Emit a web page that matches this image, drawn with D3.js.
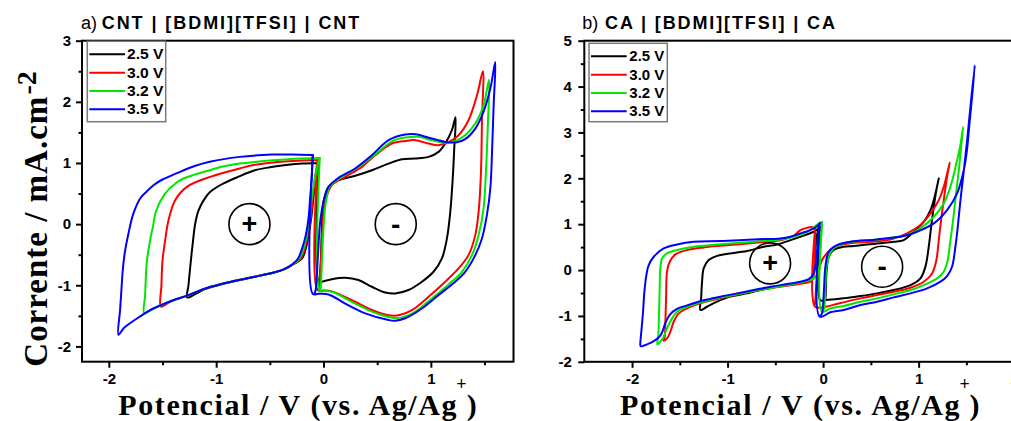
<!DOCTYPE html>
<html>
<head>
<meta charset="utf-8">
<script src="https://cdn.jsdelivr.net/npm/d3@7/dist/d3.min.js"></script>
<style>
  html, body { margin: 0; padding: 0; background: #fff; overflow: hidden; }
  svg { display: block; }
</style>
</head>
<body>
<svg id="chart" width="1011" height="421"></svg>
<script>
// ---------- data: cyclic voltammograms, potential (V vs. Ag/Ag+) / current density (mA.cm-2) ----------
const scanLabels = ["2.5 V", "3.0 V", "3.2 V", "3.5 V"];

const xTicksA = [-2, -1, 0, 1];
const yTicksA = [-2, -1, 0, 1, 2, 3];
const xMinorA = [-1.5, -0.5, 0.5, 1.5];
const yMinorA = [-1.5, -0.5, 0.5, 1.5, 2.5];

const xTicksB = [-2, -1, 0, 1, 2];
const yTicksB = [-2, -1, 0, 1, 2, 3, 4, 5];
const xMinorB = [-1.5, -0.5, 0.5, 1.5];
const yMinorB = [-1.5, -0.5, 0.5, 1.5, 2.5, 3.5, 4.5];

// CNT | [BDMI][TFSI] | CNT : electrode (+), left loop
const cntPlus25 = [[-0.045,1.0],[-0.20,0.99],[-0.33,0.97],[-0.50,0.93],[-0.64,0.88],[-0.80,0.77],[-0.96,0.64],[-1.06,0.52],[-1.12,0.38],[-1.165,0.22],[-1.196,0.0],[-1.215,-0.26],[-1.24,-0.67],[-1.258,-1.0],[-1.27,-1.20],[-1.20,-1.15],[-1.10,-1.06],[-0.95,-0.985],[-0.79,-0.92],[-0.64,-0.86],[-0.48,-0.80],[-0.37,-0.74],[-0.28,-0.655],[-0.20,-0.56],[-0.165,-0.40],[-0.14,-0.18],[-0.115,0.09],[-0.095,0.42],[-0.075,0.75],[-0.05,0.97],[-0.045,1.0]];
const cntPlus30 = [[-0.055,1.05],[-0.33,1.029],[-0.64,0.97],[-0.78,0.91],[-1.056,0.773],[-1.273,0.61],[-1.382,0.392],[-1.444,0.065],[-1.475,-0.26],[-1.50,-0.6],[-1.51,-1.0],[-1.515,-1.35],[-1.45,-1.29],[-1.40,-1.245],[-1.27,-1.17],[-1.10,-1.05],[-0.95,-0.98],[-0.79,-0.915],[-0.64,-0.86],[-0.48,-0.80],[-0.37,-0.74],[-0.285,-0.66],[-0.21,-0.56],[-0.175,-0.40],[-0.145,-0.18],[-0.12,0.09],[-0.10,0.42],[-0.08,0.75],[-0.06,0.98],[-0.055,1.05]];
const cntPlus32 = [[-0.035,1.08],[-0.33,1.062],[-0.64,1.018],[-0.78,0.99],[-0.95,0.937],[-1.06,0.882],[-1.20,0.81],[-1.305,0.746],[-1.38,0.664],[-1.48,0.49],[-1.56,0.215],[-1.59,-0.05],[-1.615,-0.26],[-1.646,-0.616],[-1.662,-1.16],[-1.67,-1.46],[-1.60,-1.40],[-1.52,-1.33],[-1.40,-1.245],[-1.27,-1.17],[-1.10,-1.05],[-0.95,-0.98],[-0.79,-0.915],[-0.64,-0.86],[-0.48,-0.80],[-0.37,-0.74],[-0.29,-0.665],[-0.225,-0.56],[-0.185,-0.40],[-0.155,-0.18],[-0.13,0.09],[-0.11,0.42],[-0.08,0.75],[-0.05,1.0],[-0.035,1.08]];
const cntPlus35 = [[-0.10,1.13],[-0.30,1.14],[-0.48,1.137],[-0.78,1.10],[-1.06,1.02],[-1.20,0.95],[-1.37,0.83],[-1.50,0.73],[-1.584,0.637],[-1.65,0.53],[-1.708,0.42],[-1.771,0.175],[-1.817,-0.152],[-1.85,-0.45],[-1.87,-0.75],[-1.88,-1.0],[-1.895,-1.4],[-1.91,-1.81],[-1.86,-1.70],[-1.786,-1.60],[-1.70,-1.50],[-1.62,-1.41],[-1.52,-1.33],[-1.40,-1.245],[-1.27,-1.17],[-1.10,-1.05],[-0.95,-0.98],[-0.79,-0.915],[-0.64,-0.86],[-0.48,-0.80],[-0.37,-0.74],[-0.30,-0.67],[-0.24,-0.57],[-0.20,-0.40],[-0.165,-0.18],[-0.14,0.09],[-0.125,0.42],[-0.11,0.75],[-0.10,1.13]];

// CNT | [BDMI][TFSI] | CNT : electrode (-), right loop (starts with the switching step)
const cntMinus25 = [[-0.045,1.0],[-0.045,-0.94],[-0.015,-0.942],[0.078,-0.90],[0.202,-0.877],[0.326,-0.915],[0.451,-1.024],[0.575,-1.117],[0.668,-1.133],[0.792,-1.078],[0.917,-0.942],[1.025,-0.779],[1.103,-0.561],[1.15,-0.234],[1.181,0.20],[1.202,0.692],[1.218,1.236],[1.23,1.75],[1.196,1.536],[1.134,1.318],[1.072,1.182],[0.979,1.10],[0.855,1.073],[0.73,1.062],[0.606,0.99],[0.451,0.882],[0.295,0.79],[0.14,0.719],[0.047,0.61],[0.0,0.365],[-0.015,-0.07],[-0.025,-0.615],[-0.035,-0.9]];
const cntMinus30 = [[-0.055,1.05],[-0.055,-1.08],[0.0,-1.085],[0.078,-1.10],[0.295,-1.27],[0.451,-1.405],[0.606,-1.49],[0.70,-1.49],[0.824,-1.405],[0.979,-1.187],[1.134,-0.942],[1.258,-0.724],[1.351,-0.507],[1.414,-0.18],[1.445,0.20],[1.467,0.855],[1.476,1.672],[1.485,2.50],[1.43,2.108],[1.351,1.70],[1.258,1.454],[1.165,1.34],[1.072,1.291],[0.979,1.318],[0.855,1.373],[0.761,1.36],[0.637,1.318],[0.482,1.127],[0.358,0.937],[0.202,0.773],[0.078,0.637],[0.016,0.365],[-0.009,-0.07],[-0.025,-0.615],[-0.04,-0.997],[-0.045,-1.06]];
const cntMinus32 = [[-0.035,1.08],[-0.035,-1.09],[0.0,-1.095],[0.078,-1.106],[0.295,-1.30],[0.451,-1.43],[0.637,-1.53],[0.73,-1.525],[0.855,-1.433],[1.01,-1.215],[1.165,-0.986],[1.29,-0.779],[1.383,-0.507],[1.445,-0.18],[1.491,0.256],[1.516,0.964],[1.532,1.672],[1.542,2.36],[1.491,1.944],[1.414,1.645],[1.32,1.454],[1.227,1.36],[1.134,1.333],[1.01,1.373],[0.885,1.427],[0.761,1.416],[0.637,1.355],[0.482,1.138],[0.326,0.937],[0.171,0.773],[0.062,0.626],[0.022,0.365],[0.0,-0.07],[-0.015,-0.615],[-0.025,-1.02],[-0.03,-1.08]];
const cntMinus35 = [[-0.10,1.13],[-0.10,-1.14],[-0.046,-1.14],[0.047,-1.15],[0.202,-1.30],[0.389,-1.46],[0.606,-1.569],[0.668,-1.58],[0.761,-1.54],[0.917,-1.38],[1.072,-1.16],[1.227,-0.942],[1.32,-0.78],[1.414,-0.507],[1.476,-0.234],[1.522,0.147],[1.554,0.583],[1.569,1.127],[1.585,1.944],[1.60,2.65],[1.554,2.217],[1.491,1.84],[1.414,1.563],[1.32,1.39],[1.243,1.34],[1.134,1.345],[1.01,1.40],[0.855,1.47],[0.761,1.465],[0.606,1.373],[0.451,1.127],[0.295,0.91],[0.14,0.757],[0.047,0.61],[0.0,0.365],[-0.031,0.038],[-0.052,-0.507],[-0.071,-1.05],[-0.08,-1.12]];

// CA | [BDMI][TFSI] | CA : electrode (+), left loop
const caPlus25 = [[-0.03,0.93],[-0.098,0.835],[-0.238,0.727],[-0.482,0.559],[-0.622,0.508],[-0.796,0.414],[-1.11,0.31],[-1.198,0.218],[-1.25,0.036],[-1.267,-0.254],[-1.277,-0.617],[-1.285,-0.87],[-1.215,-0.80],[-1.11,-0.69],[-0.971,-0.58],[-0.796,-0.508],[-0.552,-0.385],[-0.377,-0.327],[-0.203,-0.254],[-0.133,-0.196],[-0.098,-0.036],[-0.081,0.472],[-0.06,0.8],[-0.03,0.93]];
const caPlus30 = [[-0.083,0.91],[-0.12,0.94],[-0.168,0.92],[-0.238,0.87],[-0.308,0.748],[-0.447,0.647],[-0.726,0.59],[-1.075,0.53],[-1.25,0.494],[-1.424,0.436],[-1.547,0.341],[-1.606,0.181],[-1.634,-0.036],[-1.644,-0.617],[-1.651,-1.126],[-1.658,-1.45],[-1.67,-1.54],[-1.634,-1.489],[-1.599,-1.343],[-1.564,-1.126],[-1.512,-0.944],[-1.424,-0.835],[-1.25,-0.705],[-1.075,-0.617],[-0.726,-0.457],[-0.377,-0.341],[-0.203,-0.29],[-0.133,-0.254],[-0.105,-0.181],[-0.091,0.109],[-0.084,0.763],[-0.083,0.91]];
const caPlus32 = [[-0.01,1.05],[-0.028,1.04],[-0.168,0.835],[-0.308,0.727],[-0.447,0.668],[-0.726,0.617],[-1.075,0.56],[-1.355,0.508],[-1.529,0.436],[-1.634,0.363],[-1.686,0.254],[-1.704,0.036],[-1.711,-0.399],[-1.718,-0.98],[-1.725,-1.416],[-1.735,-1.62],[-1.704,-1.561],[-1.669,-1.452],[-1.634,-1.271],[-1.581,-1.053],[-1.529,-0.908],[-1.424,-0.80],[-1.25,-0.69],[-1.075,-0.60],[-0.726,-0.457],[-0.377,-0.327],[-0.203,-0.254],[-0.098,-0.181],[-0.046,-0.036],[-0.028,0.472],[-0.015,0.95],[-0.01,1.05]];
const caPlus35 = [[-0.035,1.02],[-0.06,0.96],[-0.133,0.87],[-0.238,0.80],[-0.342,0.727],[-0.447,0.69],[-0.726,0.668],[-1.075,0.632],[-1.355,0.617],[-1.529,0.559],[-1.669,0.472],[-1.773,0.29],[-1.826,0.109],[-1.85,-0.109],[-1.871,-0.472],[-1.885,-0.908],[-1.903,-1.343],[-1.913,-1.58],[-1.91,-1.66],[-1.843,-1.62],[-1.773,-1.55],[-1.721,-1.47],[-1.686,-1.36],[-1.651,-1.15],[-1.599,-0.96],[-1.529,-0.845],[-1.424,-0.77],[-1.25,-0.66],[-1.075,-0.58],[-0.901,-0.508],[-0.726,-0.436],[-0.552,-0.363],[-0.377,-0.305],[-0.238,-0.254],[-0.15,-0.196],[-0.098,-0.072],[-0.074,0.181],[-0.056,0.617],[-0.045,0.95],[-0.035,1.02]];

// CA | [BDMI][TFSI] | CA : electrode (-), right loop
const caMinus25 = [[-0.03,0.93],[-0.03,-0.66],[0.024,-0.654],[0.216,-0.617],[0.391,-0.566],[0.565,-0.508],[0.74,-0.436],[0.914,-0.327],[1.019,-0.181],[1.071,0.073],[1.106,0.508],[1.131,0.944],[1.159,1.38],[1.186,1.743],[1.211,1.997],[1.176,1.67],[1.124,1.307],[1.054,1.053],[0.949,0.835],[0.844,0.654],[0.74,0.617],[0.565,0.581],[0.321,0.523],[0.216,0.508],[0.111,0.436],[0.059,0.29],[0.035,-0.073],[0.028,-0.508],[0.024,-0.62]];
const caMinus30 = [[-0.083,0.91],[-0.083,-0.80],[0.024,-0.80],[0.164,-0.727],[0.391,-0.617],[0.565,-0.545],[0.74,-0.472],[0.914,-0.385],[1.054,-0.254],[1.141,-0.073],[1.186,0.218],[1.211,0.654],[1.235,1.089],[1.263,1.525],[1.298,2.033],[1.326,2.346],[1.298,2.10],[1.263,1.815],[1.211,1.525],[1.124,1.235],[1.019,0.98],[0.879,0.799],[0.705,0.668],[0.495,0.617],[0.321,0.595],[0.181,0.545],[0.076,0.436],[-0.011,0.218],[-0.063,-0.218],[-0.081,-0.654],[-0.083,-0.75]];
const caMinus32 = [[-0.01,1.05],[-0.01,-0.908],[0.076,-0.835],[0.216,-0.784],[0.391,-0.69],[0.565,-0.617],[0.74,-0.53],[0.914,-0.436],[1.054,-0.327],[1.194,-0.181],[1.263,-0.036],[1.305,0.218],[1.333,0.654],[1.361,1.089],[1.392,1.67],[1.421,2.179],[1.445,2.687],[1.466,3.12],[1.435,2.7],[1.403,2.397],[1.333,1.815],[1.263,1.452],[1.159,1.162],[1.019,0.908],[0.879,0.763],[0.67,0.69],[0.391,0.632],[0.216,0.581],[0.094,0.436],[0.042,0.145],[0.024,-0.363],[0.014,-0.799],[0.0,-0.9]];
const caMinus35 = [[-0.035,1.02],[-0.035,-1.017],[0.076,-0.92],[0.216,-0.87],[0.391,-0.763],[0.565,-0.69],[0.74,-0.595],[0.914,-0.508],[1.089,-0.399],[1.229,-0.254],[1.298,-0.131],[1.35,0.073],[1.385,0.508],[1.41,0.944],[1.438,1.525],[1.466,2.033],[1.508,2.832],[1.549,3.70],[1.588,4.466],[1.565,3.9],[1.535,3.25],[1.505,2.6],[1.473,2.18],[1.403,1.67],[1.298,1.307],[1.159,1.017],[0.984,0.835],[0.844,0.741],[0.565,0.668],[0.286,0.617],[0.146,0.545],[0.059,0.40],[0.024,0.073],[0.007,-0.508],[-0.011,-0.944],[-0.03,-1.0]];

// electrode markers, in data coordinates
const signsA = [{ x: -0.69, y: 0.0, label: "+" }, { x: 0.673, y: 0.0, label: "-" }];
const signsB = [{ x: -0.555, y: 0.146, label: "+" }, { x: 0.618, y: 0.072, label: "-" }];

// ---------- styles and layout ----------
const colors = ["#000000", "#ff0000", "#00e600", "#0000ff"];
const SANS = "'Liberation Sans', Arial, sans-serif";
const SERIF = "'Liberation Serif', 'Times New Roman', serif";

const panels = [
  {
    id: "a", left: 82, right: 513.5, top: 40.7, bottom: 361.7,
    xDomain: [-2.25, 1.77], yDomain: [-2.25, 3],
    xTicks: xTicksA, yTicks: yTicksA, xMinor: xMinorA, yMinor: yMinorA,
    plus: [cntPlus25, cntPlus30, cntPlus32, cntPlus35],
    minus: [cntMinus25, cntMinus30, cntMinus32, cntMinus35],
    signs: signsA,
    tag: "a)", title: "CNT | [BDMI][TFSI] | CNT", tagX: 81, titleX: 101.7, titleW: 257.6,
    legend: { x: 87.3, y: 41.3, w: 78.4, h: 80.4, x1: 89.3, x2: 125, tx: 127, tw: 36.5 },
    yPad: 5, xTitleX: 118.3, xTitleW: 338.2, supX: 456.3, parenX: 466.7
  },
  {
    id: "b", left: 584.3, right: 1042.8, top: 40.7, bottom: 361.8,
    xDomain: [-2.5, 2.3], yDomain: [-2, 5],
    xTicks: xTicksB, yTicks: yTicksB, xMinor: xMinorB, yMinor: yMinorB,
    plus: [caPlus25, caPlus30, caPlus32, caPlus35],
    minus: [caMinus25, caMinus30, caMinus32, caMinus35],
    signs: signsB,
    tag: "b)", title: "CA | [BDMI][TFSI] | CA", tagX: 582.3, titleX: 605, titleW: 230,
    legend: { x: 589, y: 43.3, w: 78.3, h: 78.4, x1: 591, x2: 626.7, tx: 629.3, tw: 35 },
    yPad: 6.5, xTitleX: 620, xTitleW: 339.5, supX: 959.5, parenX: 969.5
  }
];

const svg = d3.select("#chart");
svg.append("rect").attr("width", 1011).attr("height", 421).attr("fill", "#fff");
const defs = svg.append("defs");

panels.forEach(p => {
  const x = d3.scaleLinear().domain(p.xDomain).range([p.left, p.right]);
  const y = d3.scaleLinear().domain(p.yDomain).range([p.bottom, p.top]);
  const g = svg.append("g").attr("class", "panel-" + p.id);

  defs.append("clipPath").attr("id", "clip-" + p.id)
    .append("rect").attr("x", p.left).attr("y", p.top)
    .attr("width", p.right - p.left).attr("height", p.bottom - p.top);

  // voltammogram loops, one colour per cell voltage
  const line = d3.line().x(d => x(d[0])).y(d => y(d[1])).curve(d3.curveCatmullRom.alpha(0.5));
  const curves = g.append("g").attr("clip-path", `url(#clip-${p.id})`);
  scanLabels.forEach((lab, i) => {
    [p.plus[i], p.minus[i]].forEach(s => {
      curves.append("path").attr("d", line(s))
        .attr("fill", "none").attr("stroke", colors[i])
        .attr("stroke-width", 2).attr("stroke-linejoin", "round").attr("stroke-linecap", "round");
    });
  });

  // electrode markers
  p.signs.forEach(s => {
    g.append("circle").attr("cx", x(s.x)).attr("cy", y(s.y)).attr("r", 20.5)
      .attr("fill", "none").attr("stroke", "#000").attr("stroke-width", 1.6);
    g.append("text").attr("x", x(s.x)).attr("y", y(s.y) + (s.label === "+" ? 9 : 9.5))
      .attr("text-anchor", "middle").attr("font-family", SANS).attr("font-weight", "bold")
      .attr("font-size", s.label === "+" ? 27 : 28).text(s.label);
  });

  // frame
  g.append("rect").attr("x", p.left).attr("y", p.top)
    .attr("width", p.right - p.left).attr("height", p.bottom - p.top)
    .attr("fill", "none").attr("stroke", "#000").attr("stroke-width", 2);

  // axes: major and minor ticks pointing outward
  const fmt = d => String(d);
  const xAxis = g.append("g").attr("transform", `translate(0,${p.bottom})`)
    .call(d3.axisBottom(x).tickValues(p.xTicks).tickSize(6).tickPadding(6).tickSizeOuter(0).tickFormat(fmt));
  const xMinor = g.append("g").attr("transform", `translate(0,${p.bottom})`)
    .call(d3.axisBottom(x).tickValues(p.xMinor).tickSize(3.5).tickSizeOuter(0).tickFormat(""));
  const yAxis = g.append("g").attr("transform", `translate(${p.left},0)`)
    .call(d3.axisLeft(y).tickValues(p.yTicks).tickSize(6).tickPadding(p.yPad).tickSizeOuter(0).tickFormat(fmt));
  const yMinor = g.append("g").attr("transform", `translate(${p.left},0)`)
    .call(d3.axisLeft(y).tickValues(p.yMinor).tickSize(3.5).tickSizeOuter(0).tickFormat(""));
  [xAxis, xMinor, yAxis, yMinor].forEach(a => {
    a.select(".domain").remove();
    a.selectAll(".tick line").attr("stroke", "#000").attr("stroke-width", 2);
    a.selectAll(".tick text").attr("fill", "#000").attr("font-family", SANS)
      .attr("font-weight", "bold").attr("font-size", 15);
  });

  // legend
  const L = p.legend;
  g.append("rect").attr("x", L.x).attr("y", L.y).attr("width", L.w).attr("height", L.h)
    .attr("fill", "#fff").attr("stroke", "#7a7a7a").attr("stroke-width", 1.5);
  const band = d3.scalePoint().domain(scanLabels).range([L.y + 13, L.y + 68]);
  scanLabels.forEach((lab, i) => {
    const yy = band(lab);
    g.append("line").attr("x1", L.x1).attr("x2", L.x2).attr("y1", yy).attr("y2", yy)
      .attr("stroke", colors[i]).attr("stroke-width", 2);
    g.append("text").attr("x", L.tx).attr("y", yy + 5)
      .attr("font-family", SANS).attr("font-weight", "bold").attr("font-size", 14)
      .attr("textLength", L.tw).attr("lengthAdjust", "spacingAndGlyphs").text(lab);
  });

  // panel title
  g.append("text").attr("x", p.tagX).attr("y", 29.3)
    .attr("font-family", SANS).attr("font-size", 18).text(p.tag);
  g.append("text").attr("x", p.titleX).attr("y", 29.3)
    .attr("font-family", SANS).attr("font-weight", "bold").attr("font-size", 18)
    .attr("textLength", p.titleW).attr("lengthAdjust", "spacing").text(p.title);

  // x-axis title
  g.append("text").attr("x", p.xTitleX).attr("y", 414.5)
    .attr("font-family", SERIF).attr("font-weight", "bold").attr("font-size", 30)
    .attr("textLength", p.xTitleW).attr("lengthAdjust", "spacing")
    .text("Potencial / V (vs. Ag/Ag");
  g.append("text").attr("x", p.supX).attr("y", 389.5)
    .attr("font-family", SERIF).attr("font-weight", "bold").attr("font-size", 18).text("+");
  g.append("text").attr("x", p.parenX).attr("y", 414.5)
    .attr("font-family", SERIF).attr("font-weight", "bold").attr("font-size", 30).text(")");
});

// y-axis title, shared by both panels
svg.append("text").attr("transform", "translate(46.7,366.7) rotate(-90)")
  .attr("font-family", SERIF).attr("font-weight", "bold").attr("font-size", 33)
  .attr("textLength", 270).attr("lengthAdjust", "spacing")
  .text("Corrente / mA.cm");
svg.append("text").attr("transform", "translate(36,94.5) rotate(-90)")
  .attr("font-family", SERIF).attr("font-weight", "bold").attr("font-size", 28)
  .text("-2");
</script>
</body>
</html>
